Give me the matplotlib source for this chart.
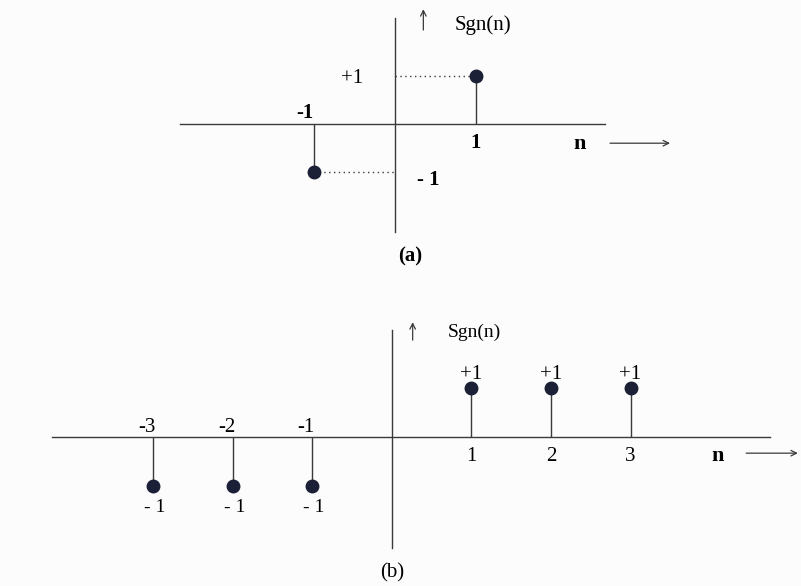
import matplotlib
matplotlib.use("Agg")
import matplotlib.pyplot as plt

# panel (a): two samples of sgn(n)
n_a = [-1, 1]
sgn_a = [-1, 1]
# panel (b): sgn(n) for n = -3..3 (n = 0 not drawn)
n_b = [-3, -2, -1, 1, 2, 3]
sgn_b = [-1, -1, -1, 1, 1, 1]
n_labels_b = ["-3", "-2", "-1", "1", "2", "3"]
val_labels_b = ["- 1", "- 1", "- 1", "+1", "+1", "+1"]

W, H = 801, 586
INK = "#3a3a3a"
DOT = "#1b2036"
FONT = "Liberation Serif"

fig = plt.figure(figsize=(W / 100, H / 100), dpi=100, facecolor="#fcfcfc")


def make_axes(x0, y0, ux, uy):
    # axes spanning the whole figure, origin at pixel (x0, y0), units ux/uy px
    ax = fig.add_axes([0, 0, 1, 1])
    ax.set_xlim(-x0 / ux, (W - x0) / ux)
    ax.set_ylim((y0 - H) / uy, y0 / uy)
    ax.axis("off")
    ax.patch.set_alpha(0)
    return ax


def draw_stems(ax, n, vals):
    ml, sl, bl = ax.stem(n, vals, linefmt="-", markerfmt="o", basefmt=" ")
    plt.setp(sl, color=INK, linewidth=1.0)
    plt.setp(ml, color=DOT, markersize=9)


def arrows(ax, x_from, x_to, y_n, up_x, up_y0, up_y1):
    ax.annotate("", xy=(x_to, y_n), xytext=(x_from, y_n),
                arrowprops=dict(arrowstyle="->", color=INK, lw=0.9))
    ax.annotate("", xy=(up_x, up_y1), xytext=(up_x, up_y0),
                arrowprops=dict(arrowstyle="->", color=INK, lw=0.9))


# ---------- (a) ----------
ax = make_axes(395, 124, 81, 48)
ax.plot([-2.65, 2.59], [0, 0], color=INK, lw=1.0)
ax.plot([0, 0], [-2.25, 2.21], color=INK, lw=1.0)
ax.plot([0, n_a[1]], [sgn_a[1], sgn_a[1]], color=INK, lw=1.0, ls=(0, (1, 2.5)))
ax.plot([n_a[0], 0], [sgn_a[0], sgn_a[0]], color=INK, lw=1.0, ls=(0, (1, 2.5)))
draw_stems(ax, n_a, sgn_a)
ax.text(-0.53, 0.94, "+1", fontsize=15, family=FONT, ha="center", va="center")
ax.text(-1.11, 0.23, "-1", fontsize=15, family=FONT, weight="bold", ha="center", va="center")
ax.text(1.0, -0.4, "1", fontsize=15, family=FONT, weight="bold", ha="center", va="center")
ax.text(0.41, -1.17, "- 1", fontsize=15, family=FONT, weight="bold", ha="center", va="center")
ax.text(2.28, -0.42, "n", fontsize=16, family=FONT, weight="bold", ha="center", va="center")
ax.text(1.08, 2.06, "Sgn(n)", fontsize=15, family=FONT, ha="center", va="center")
ax.text(0.19, -2.75, "(a)", fontsize=15, family=FONT, weight="bold", ha="center", va="center")
arrows(ax, 2.62, 3.43, -0.40, 0.35, 1.9, 2.45)

# ---------- (b) ----------
ax = make_axes(392, 437, 79.5, 49)
ax.plot([-4.28, 4.75], [0, 0], color=INK, lw=1.0)
ax.plot([0, 0], [-2.27, 2.18], color=INK, lw=1.0)
draw_stems(ax, n_b, sgn_b)
for n, v, nl, vl in zip(n_b, sgn_b, n_labels_b, val_labels_b):
    if v < 0:
        ax.text(n - 0.08, 0.2, nl, fontsize=15, family=FONT, ha="center", va="center")
        ax.text(n + 0.02, -1.43, vl, fontsize=14, family=FONT, ha="center", va="center")
    else:
        ax.text(n, -0.39, nl, fontsize=15, family=FONT, ha="center", va="center")
        ax.text(n, 1.27, vl, fontsize=15, family=FONT, ha="center", va="center")
ax.text(4.1, -0.39, "n", fontsize=16, family=FONT, weight="bold", ha="center", va="center")
ax.text(1.04, 2.14, "Sgn(n)", fontsize=14, family=FONT, ha="center", va="center")
ax.text(0.0, -2.78, "(b)", fontsize=15, family=FONT, ha="center", va="center")
arrows(ax, 4.42, 5.14, -0.33, 0.26, 1.92, 2.4)

fig.savefig("out.png", dpi=100, facecolor=fig.get_facecolor())
